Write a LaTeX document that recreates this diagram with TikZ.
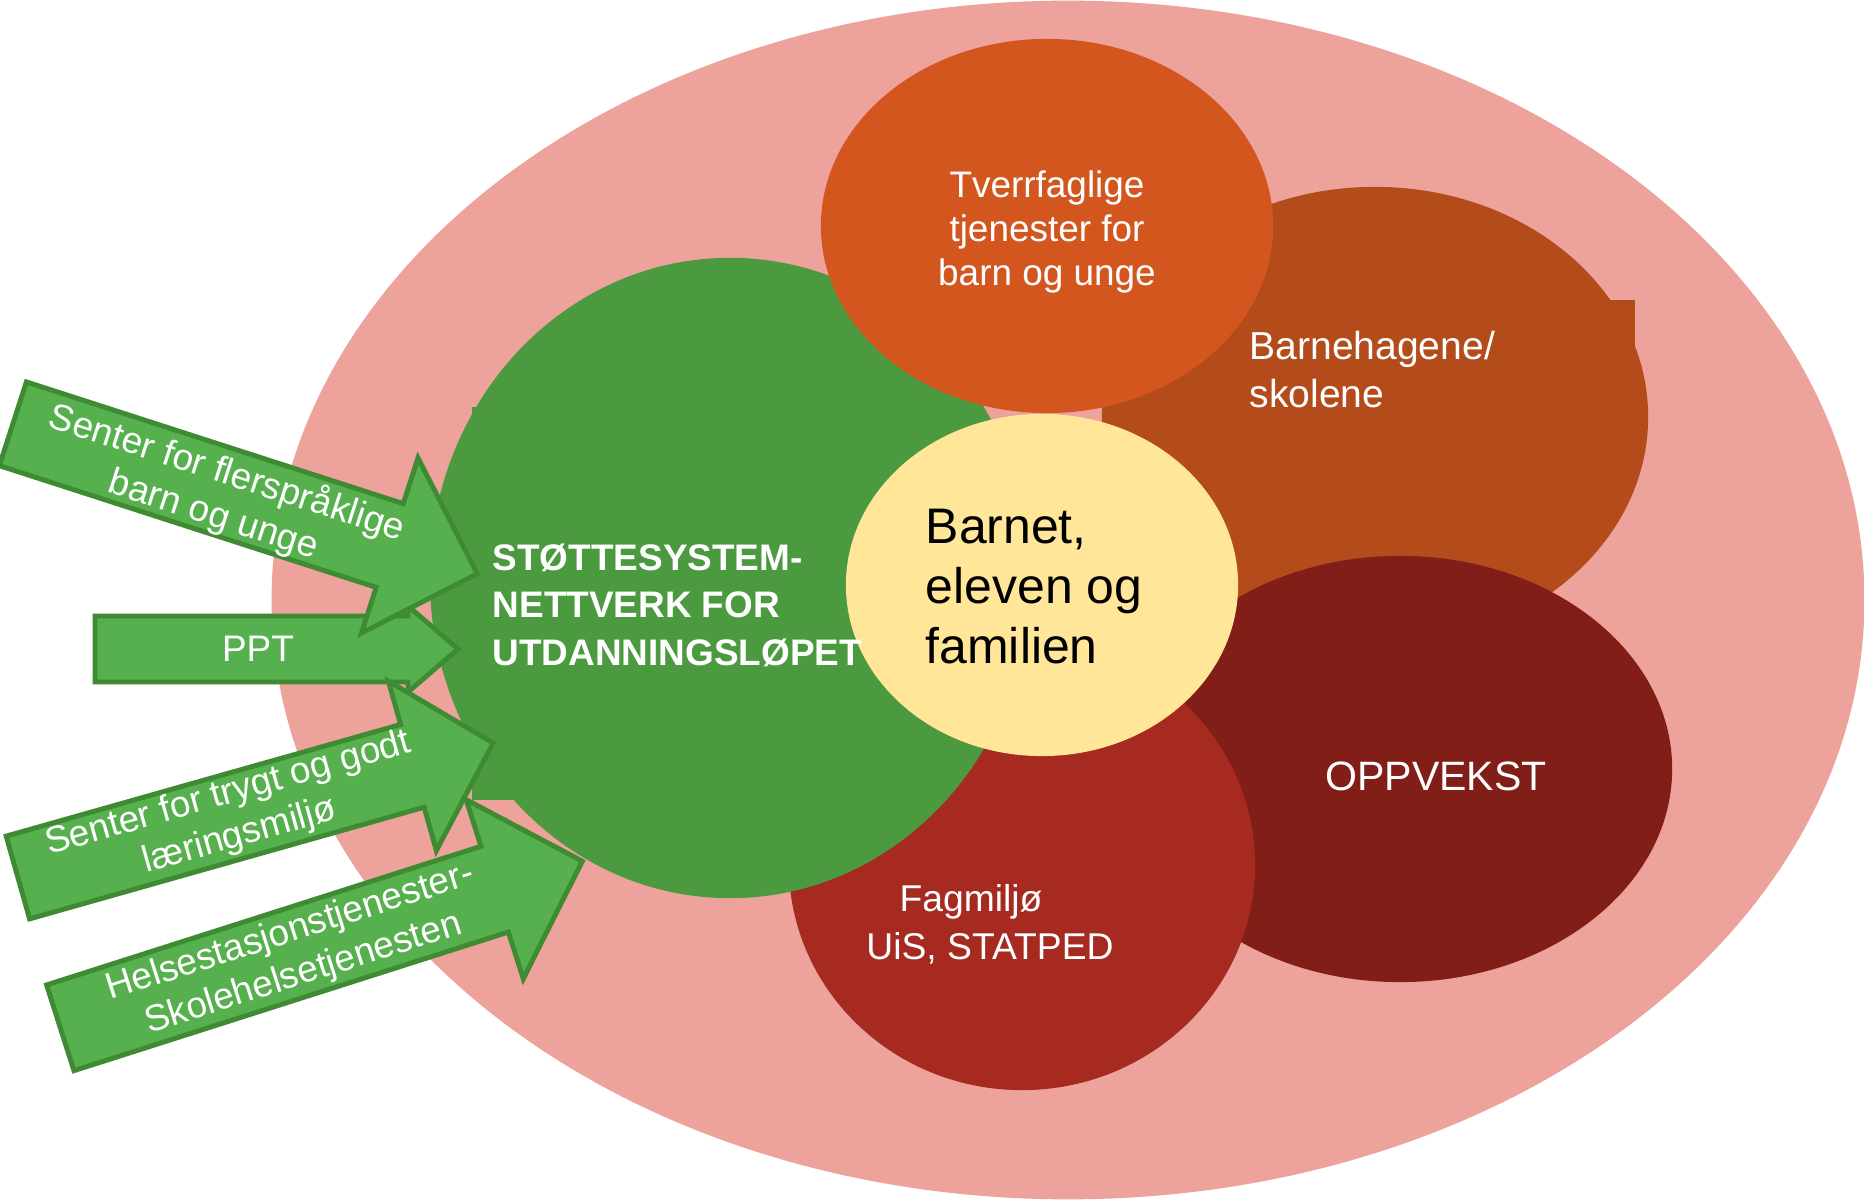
\documentclass[tikz,border=0pt]{standalone}
\usepackage{fontspec}
\setmainfont{Liberation Sans}
\usetikzlibrary{shapes.geometric}
\definecolor{rammecol}{HTML}{EDA29C}
\definecolor{stottecol}{HTML}{4B9A40}
\definecolor{tverrcol}{HTML}{D4561F}
\definecolor{barnehagecol}{HTML}{B34B1B}
\definecolor{oppvekstcol}{HTML}{801E17}
\definecolor{fagcol}{HTML}{A62A20}
\definecolor{barnetcol}{HTML}{FFE699}
\definecolor{pilfill}{HTML}{56B04E}
\definecolor{pilkant}{HTML}{3F8B33}

\begin{document}
\begin{tikzpicture}[x=.01cm,y=-.01cm,
  blob/.style={ellipse,inner sep=0pt},
  lbl/.style={text=white,inner sep=0pt},
  arrowbox/.style={fill=pilfill,draw=pilkant,line width=1.4pt},
  arrowtext/.style={text=white,inner sep=0pt,align=center,font=\fontsize{10.5}{12.5}\selectfont}]
\useasboundingbox (0,0) rectangle (1864,1201);
%outer ring
\node[blob,fill=rammecol,minimum width=15.92cm,minimum height=11.98cm] (ramme) at (1068,600) {};
%circles round the child
\node[blob,fill=barnehagecol,minimum width=5.46cm,minimum height=4.6cm] (barnehage) at (1375,417) {};
\fill[barnehagecol] (1240,300) rectangle (1635,470);
\node[blob,fill=oppvekstcol,minimum width=5.44cm,minimum height=4.26cm] (oppvekst) at (1400,769) {};
\node[blob,fill=fagcol,minimum width=4.66cm,minimum height=4.5cm] (fag) at (1022,865) {};
\node[blob,fill=stottecol,minimum width=6cm,minimum height=6.4cm] (stotte) at (730,578) {};
\fill[stottecol] (472,407) rectangle (880,800);
\node[blob,fill=tverrcol,minimum width=4.52cm,minimum height=3.74cm] (tverr) at (1047,226) {};
\node[blob,fill=barnetcol,minimum width=3.92cm,minimum height=3.42cm] (barnet) at (1042,585) {};
%labels
\node[lbl,align=center,font=\fontsize{10.5}{12.5}\selectfont] (tverrtxt) at (1047,232) {Tverrfaglige\\tjenester for\\barn og unge};
\node[lbl,anchor=west,align=left,font=\fontsize{11.1}{13.66}\selectfont] (barnehagetxt) at (1249,370) {Barnehagene/\\skolene};
\node[lbl,font=\fontsize{11.67}{14}\selectfont] (oppvteksttxt) at (1436,776) {OPPVEKST};
\node[lbl,align=center,font=\fontsize{10.6}{13.66}\selectfont] (fagtxt) at (990,924) {Fagmiljø\hspace*{.38cm}\\UiS, STATPED};
\node[inner sep=0pt,anchor=west,align=left,font=\fontsize{14.2}{17.07}\selectfont] (barnettxt) at (925,587) {Barnet,\\eleven og\\familien};
\node[lbl,anchor=west,align=left,font=\fontsize{10.5}{13.5}\selectfont\bfseries] (stottetxt) at (492,605) {STØTTESYSTEM-\\NETTVERK FOR\\UTDANNINGSLØPET};
%PPT
\begin{scope}[shift={(95,649)}]
\draw[arrowbox] (0,-33) -- (313,-33) -- (313,-43) -- (363,0) -- (313,43) -- (313,33) -- (0,33) -- cycle;
\node[arrowtext] (ppt) at (163,0) {PPT};
\end{scope}
%trygt og godt laeringsmiljo
\begin{scope}[shift={(17.9,877.5)},rotate=15.8]
\draw[arrowbox] (0,-43) -- (410,-43) -- (410,-88) -- (494,0) -- (410,88) -- (410,43) -- (0,43) -- cycle;
\node[arrowtext,rotate=15.8] (trygt) at (225,-1) {Senter for trygt og godt\\læringsmiljø};
\end{scope}
%helsestasjon
\begin{scope}[shift={(60.3,1027.8)},rotate=17.7]
\draw[arrowbox] (0,-45) -- (456,-45) -- (456,-94) -- (548,0) -- (456,94) -- (456,45) -- (0,45) -- cycle;
\node[arrowtext,rotate=17.7] (helse) at (248,1) {Helsestasjonstjenester-\\Skolehelsetjenesten};
\end{scope}
%flerspraklige
\begin{scope}[shift={(12.9,423.8)},rotate=-17.9]
\draw[arrowbox] (0,-44) -- (396,-44) -- (396,-92) -- (488,0) -- (396,92) -- (396,44) -- (0,44) -- cycle;
\node[arrowtext,rotate=-17.9] (fler) at (219,3) {Senter for flerspråklige\\barn og unge};
\end{scope}
\end{tikzpicture}
\end{document}
